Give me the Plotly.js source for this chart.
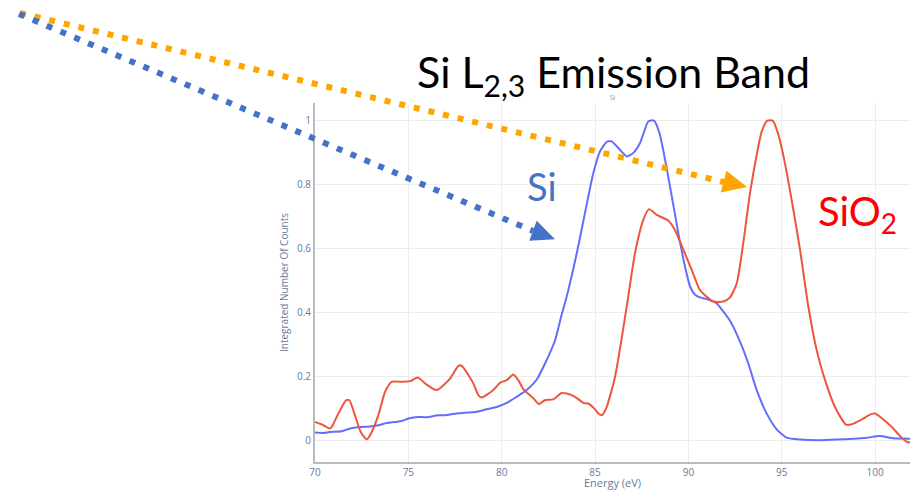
<!DOCTYPE html>
<html>
<head>
<meta charset="utf-8">
<script src="https://cdn.plot.ly/plotly-3.0.1.min.js"></script>
<style>html,body{margin:0;padding:0;background:#fff;}#chart{width:910px;height:490px;}</style>
</head>
<body>
<div id="chart"></div>
<script>
// ---- Data ----
const siEnergy = [70,70.45,70.8,71.43,71.88,72.32,72.95,73.39,73.84,74.29,74.64,75.0,75.53,75.98,76.6,76.96,77.59,78.66,79.2,79.73,80.27,80.8,81.34,81.88,82.32,82.86,83.2,83.48,84.02,84.46,84.91,85.27,85.62,85.89,86.25,86.7,87.05,87.41,87.86,88.16,88.45,88.75,89.11,89.46,89.82,90.09,90.36,90.62,90.98,91.52,91.75,92.23,92.77,93.21,93.66,94.19,94.73,95.27,95.98,97.05,97.94,98.84,99.55,100.27,100.98,101.87];
const siCounts = [0.024,0.023,0.026,0.028,0.037,0.041,0.043,0.047,0.054,0.057,0.060,0.068,0.073,0.072,0.078,0.078,0.084,0.089,0.097,0.104,0.117,0.136,0.157,0.190,0.240,0.313,0.390,0.449,0.585,0.711,0.836,0.904,0.933,0.935,0.914,0.888,0.899,0.930,0.998,1.0,0.961,0.878,0.763,0.648,0.543,0.481,0.455,0.447,0.442,0.428,0.412,0.374,0.308,0.240,0.157,0.084,0.034,0.008,0.002,0.0,0.002,0.005,0.008,0.013,0.006,0.005];

const sio2Energy = [70.0,70.45,70.77,70.9,71.16,71.66,71.84,72.14,72.45,72.77,72.95,73.39,73.75,74.1,74.55,75.09,75.5,75.98,76.52,77.23,77.68,77.86,78.48,78.75,78.93,79.55,79.91,80.27,80.62,80.89,81.16,81.7,82.0,82.3,82.76,83.21,83.48,83.93,84.37,84.64,84.91,85.18,85.36,85.62,86.07,86.43,86.78,87.14,87.59,87.89,88.3,88.93,89.28,89.73,90.18,90.62,91.33,91.87,92.23,92.59,92.94,93.3,93.66,93.93,94.23,94.52,94.82,95.17,95.53,95.98,96.42,96.87,97.32,97.85,98.44,98.75,99.28,99.73,100.0,100.44,100.89,101.34,101.7,101.87];
const sio2Counts = [0.057,0.047,0.037,0.042,0.073,0.125,0.125,0.078,0.026,0.003,0.016,0.078,0.151,0.183,0.183,0.185,0.196,0.174,0.157,0.193,0.233,0.233,0.178,0.141,0.134,0.157,0.180,0.188,0.206,0.188,0.160,0.131,0.113,0.125,0.128,0.148,0.146,0.136,0.117,0.115,0.102,0.084,0.078,0.104,0.198,0.320,0.450,0.585,0.690,0.723,0.705,0.687,0.658,0.596,0.533,0.470,0.434,0.434,0.447,0.491,0.617,0.773,0.893,0.966,1.0,1.0,0.956,0.867,0.752,0.596,0.420,0.282,0.188,0.104,0.049,0.050,0.065,0.080,0.084,0.065,0.042,0.013,-0.005,-0.007];

const xTicks = [70,75,80,85,90,95,100];
const yTicks = [0,0.2,0.4,0.6,0.8,1];
const yTickText = ['0','0.2','0.4','0.6','0.8','1'];

// ---- Layout helpers (pixel -> paper) ----
const W = 910, H = 490, ML = 315, MR = 0, MT = 103, MB = 28;
const PW = W - ML - MR, PH = H - MT - MB;
const px = x => (x - ML) / PW;
const py = y => (H - MB - y) / PH;

const traces = [
  {x: siEnergy, y: siCounts, type: 'scatter', mode: 'lines', name: 'Si',
   line: {color: '#636efa', width: 2, shape: 'spline', smoothing: 0.6}},
  {x: sio2Energy, y: sio2Counts, type: 'scatter', mode: 'lines', name: 'SiO2',
   line: {color: '#EF553B', width: 2, shape: 'spline', smoothing: 0.6}}
];

function tri(a, b, c) {
  return 'M ' + px(a[0]) + ',' + py(a[1]) + ' L ' + px(b[0]) + ',' + py(b[1]) + ' L ' + px(c[0]) + ',' + py(c[1]) + ' Z';
}

const orange = '#FFA500', blue = '#4472C4';
const shapes = [
  {type: 'line', xref: 'paper', yref: 'paper', x0: px(20), y0: py(13), x1: px(724), y1: py(182),
   line: {color: orange, width: 6, dash: '6px,9px'}},
  {type: 'path', xref: 'paper', yref: 'paper', path: tri([726.5,170.7],[720.7,192.5],[747,187]),
   fillcolor: orange, line: {width: 0}},
  {type: 'line', xref: 'paper', yref: 'paper', x0: px(19), y0: py(14), x1: px(533), y1: py(231),
   line: {color: blue, width: 6, dash: '6px,9px'}},
  {type: 'path', xref: 'paper', yref: 'paper', path: tri([536.7,220.7],[529.3,240.7],[555,239.3]),
   fillcolor: blue, line: {width: 0}}
];

const annotations = [
  {xref: 'paper', yref: 'paper', x: px(415), y: py(74), xanchor: 'left', yanchor: 'middle',
   text: 'Si L<sub>2,3</sub> Emission Band', showarrow: false,
   font: {family: 'Lato, sans-serif', size: 43, color: '#000'}},
  {xref: 'paper', yref: 'paper', x: px(542), y: py(186), xanchor: 'center', yanchor: 'middle',
   text: 'Si', showarrow: false, font: {family: 'Lato, sans-serif', size: 38, color: blue}},
  {xref: 'paper', yref: 'paper', x: px(857), y: py(213), xanchor: 'center', yanchor: 'middle',
   text: 'SiO<sub>2</sub>', showarrow: false, font: {family: 'Lato, sans-serif', size: 40, color: '#FF0000'}}
];

const tickFont = {family: 'Open Sans, sans-serif', size: 10, color: '#6b7a99'};

const layout = {
  width: W, height: H,
  margin: {l: ML, r: MR, t: MT, b: MB, pad: 0},
  paper_bgcolor: '#fff', plot_bgcolor: '#fff',
  showlegend: false,
  title: {text: 'Si', x: 0.5, xref: 'paper', xanchor: 'center', y: 1 - 98/H, yref: 'container', yanchor: 'middle',
          font: {family: 'Open Sans, sans-serif', size: 7, color: '#999'}},
  xaxis: {
    range: [70, 101.87], tickvals: xTicks, ticktext: xTicks.map(String),
    showgrid: true, gridcolor: '#ececec', gridwidth: 1, zeroline: false,
    showline: true, linecolor: '#bbbbbb', linewidth: 2, ticks: '',
    tickfont: tickFont,
    title: {text: 'Energy (eV)', font: {family: 'Open Sans, sans-serif', size: 11, color: '#6b7a99'}, standoff: 5}
  },
  yaxis: {
    range: [-0.068, 1.055], tickvals: yTicks, ticktext: yTickText,
    showgrid: true, gridcolor: '#ececec', gridwidth: 1, zeroline: false,
    showline: true, linecolor: '#bbbbbb', linewidth: 2, ticks: '',
    tickfont: tickFont,
    title: {text: 'Integrated Number Of Counts', font: {family: 'Open Sans, sans-serif', size: 10, color: '#6b7a99'}, standoff: 6}
  },
  shapes: shapes,
  annotations: annotations
};

Plotly.newPlot('chart', traces, layout, {displayModeBar: false, staticPlot: true});
</script>
</body>
</html>
